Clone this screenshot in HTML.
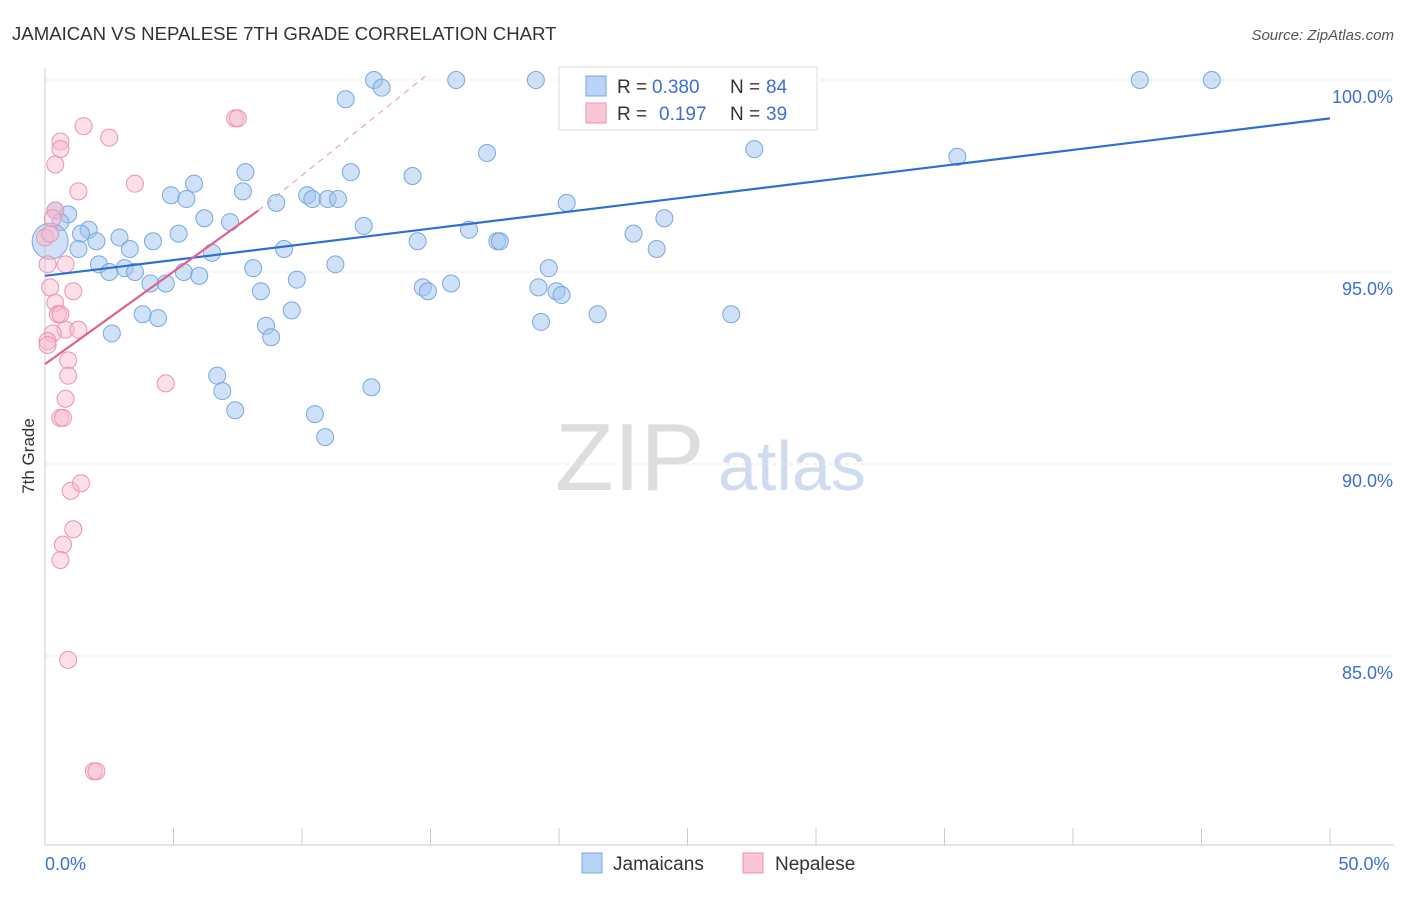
<!DOCTYPE html>
<html><head><meta charset="utf-8"><style>
body{margin:0;background:#fff;font-family:"Liberation Sans",sans-serif}
svg text{font-family:"Liberation Sans",sans-serif}
</style></head><body>
<svg width="1406" height="892" id="c">
<text x="12" y="40" font-size="18.6" fill="#333">JAMAICAN VS NEPALESE 7TH GRADE CORRELATION CHART</text>
<text x="1394" y="40" font-size="15" fill="#555" font-style="italic" text-anchor="end">Source: ZipAtlas.com</text>
<text x="34" y="456" font-size="17" fill="#333" transform="rotate(-90 34 456)" text-anchor="middle">7th Grade</text>
<text x="555" y="490" font-size="96" fill="#ddd" font-family="Liberation Serif">ZIP</text>
<text x="718" y="490" font-size="70" fill="#cfdcf0">atlas</text>
<g id="grid"></g><g id="pts"></g>
<g>
<rect x="559" y="67" width="258" height="63" fill="#fff" stroke="#ddd"/>
<rect x="586" y="76" width="20" height="20" fill="#b8d3f5" stroke="#7aa7e0"/>
<rect x="586" y="103" width="20" height="20" fill="#f9c6d6" stroke="#eb93b1"/>
<text x="617" y="93" font-size="19" fill="#333">R =</text>
<text x="652" y="93" font-size="19" fill="#3b6fd4">0.380</text>
<text x="730" y="93" font-size="19" fill="#333">N =</text>
<text x="766" y="93" font-size="19" fill="#3b6fd4">84</text>
<text x="617" y="120" font-size="19" fill="#333">R =</text>
<text x="659" y="120" font-size="19" fill="#3b6fd4">0.197</text>
<text x="730" y="120" font-size="19" fill="#333">N =</text>
<text x="766" y="120" font-size="19" fill="#3b6fd4">39</text>
</g>
<g>
<rect x="582" y="853" width="20" height="20" fill="#b8d3f5" stroke="#7aa7e0"/>
<text x="613" y="870" font-size="19" fill="#333">Jamaicans</text>
<rect x="743" y="853" width="20" height="20" fill="#f9c6d6" stroke="#eb93b1"/>
<text x="775" y="870" font-size="19" fill="#333">Nepalese</text>
</g>
</svg>
<script>
const yTicks=[100,95,90,85];
const xTickLabels=["0.0%","50.0%"];
const blueX=[12.8,16,19.1,26.5,42.6,45.4,13.1,11.7,17.2,27.6,35.5,7.8,11.9,14.3,5.8,7.7,4.9,10.2,5.5,9,10.4,11,11.4,20.3,6.2,7.2,24.1,0.4,0.9,0.6,1.7,1.4,2.9,2,5.2,12.4,16.5,22.9,14.5,4.2,3.3,1.3,9.3,17.6,17.7,23.8,6.5,2.1,3.1,2.5,3.5,5.4,6,8.1,11.3,19.6,4.1,4.7,9.8,8.4,14.7,14.9,15.8,19.2,19.9,20.1,3.8,4.4,9.6,21.5,26.7,19.3,2.6,8.6,8.8,6.7,6.9,12.7,7.4,10.5,10.9,0.2];
const blueY=[100,100,100,100,100,100,99.8,99.5,98.1,98.2,98,97.6,97.6,97.5,97.3,97.1,97,97,96.9,96.8,96.9,96.9,96.9,96.8,96.4,96.3,96.4,96.6,96.5,96.3,96.1,96,95.9,95.8,96,96.2,96.1,96,95.8,95.8,95.6,95.6,95.6,95.8,95.8,95.6,95.5,95.2,95.1,95,95,95,94.9,95.1,95.2,95.1,94.7,94.7,94.8,94.5,94.6,94.5,94.7,94.6,94.5,94.4,93.9,93.8,94,93.9,93.9,93.7,93.4,93.6,93.3,92.3,91.9,92,91.4,91.3,90.7,95.8];
const pinkX=[0,0.2,0.6,0.6,1.5,2.5,0.4,1.3,3.5,7.4,7.5,0.4,0.3,0.8,0.1,1.1,0.2,0.4,0.5,0.6,0.8,1.3,0.3,0.1,0.9,0.9,0.8,0.6,0.7,4.7,1,1.4,1.1,0.7,0.6,0.9,1.9,2,0.1];
const pinkY=[95.9,96,98.4,98.2,98.8,98.5,97.8,97.1,97.3,99,99,96.6,96.4,95.2,95.2,94.5,94.6,94.2,93.9,93.9,93.5,93.5,93.4,93.2,92.7,92.3,91.7,91.2,91.2,92.1,89.3,89.5,88.3,87.9,87.5,84.9,82,82,93.1];
const X0=45,X1=1330,Y100=80,PY=38.4;
const sx=v=>X0+(X1-X0)*v/50, sy=v=>Y100+(100-v)*PY;
const ns="http://www.w3.org/2000/svg";
function mk(t,a,p){const e=document.createElementNS(ns,t);for(const k in a)e.setAttribute(k,a[k]);p.appendChild(e);return e;}
const g=document.getElementById('grid');
yTicks.forEach(t=>{
 const l=mk('line',{x1:X0,x2:1394,y1:sy(t),y2:sy(t),stroke:'#e3e3e3','stroke-dasharray':'4 4'},g);
 
 
 const tx=mk('text',{x:1393,y:sy(t)+23,'font-size':18,fill:'#3b6fd4','text-anchor':'end'},g);
 tx.textContent=t.toFixed(1)+'%';
 
 
});
mk('line',{x1:X0,x2:X0,y1:68,y2:845,stroke:'#ccc'},g);
mk('line',{x1:X0,x2:1394,y1:845,y2:845,stroke:'#ccc'},g);
for(let i=0;i<=10;i++){mk('line',{x1:sx(i*5),x2:sx(i*5),y1:828,y2:845,stroke:'#ccc'},g);}
[[0,'start',45],[50,'middle',1364]].forEach((d,i)=>{const t=mk('text',{x:d[2],y:870,'font-size':18,fill:'#3b6fd4','text-anchor':d[1]},g);t.textContent=xTickLabels[i];

});
const p=document.getElementById('pts');
blueX.forEach((x,i)=>{const c=mk('circle',{cx:sx(x),cy:sy(blueY[i]),r:i==blueX.length-1?18:8.5,fill:'rgba(160,196,240,0.5)',stroke:'#7aa7e0','stroke-width':1},p);

});
pinkX.forEach((x,i)=>{const c=mk('circle',{cx:sx(x),cy:sy(pinkY[i]),r:8.5,fill:'rgba(248,184,204,0.45)',stroke:'#eb93b1','stroke-width':1},p);

});
const bl=mk('line',{x1:sx(0),y1:sy(94.9),x2:sx(50),y2:sy(99.0),stroke:'#2c6fd6','stroke-width':2.2},p);


const pd=mk('line',{x1:sx(8.3),y1:sy(96.6),x2:sx(14.8),y2:sy(100.1),stroke:'#eb93b1','stroke-width':1,'stroke-dasharray':'6 5'},p);


const pl=mk('line',{x1:sx(0),y1:sy(92.6),x2:sx(8.3),y2:sy(96.6),stroke:'#e0608e','stroke-width':2.2},p);


</script>
</body></html>
